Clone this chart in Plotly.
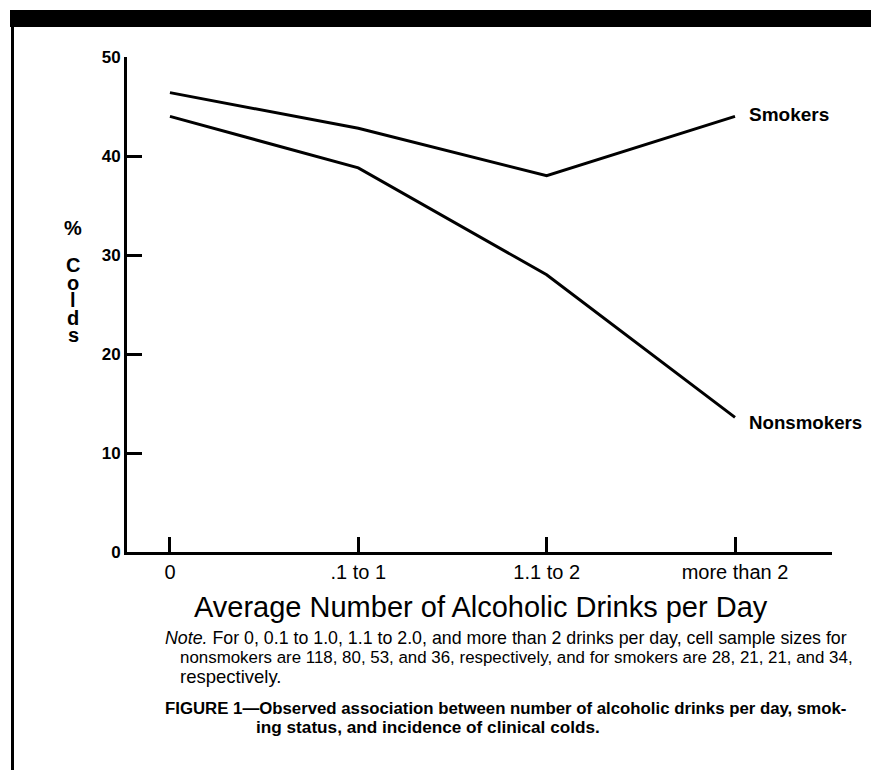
import plotly.graph_objects as go

categories = ["0", ".1 to 1", "1.1 to 2", "more than 2"]
smokers = [46.4, 42.8, 38.0, 44.0]
nonsmokers = [44.0, 38.8, 28.0, 13.6]
y_ticks = [0, 10, 20, 30, 40, 50]

# page has an 8px body margin; compensate so the plot lands where intended
OFF = 8
W, H = 879 - OFF, 770 - OFF
X0, X1, Y0, Y1 = 127, 832, 57, 552          # plot area in page pixels
L, T = X0 - OFF, Y0 - OFF
R, B = 879 - X1, 770 - Y1
PW, PH = X1 - X0, Y1 - Y0
FONT = "Liberation Sans, Arial, Helvetica, sans-serif"


def px(x):
    return (x - X0) / PW


def py(y):
    return (Y1 - y) / PH


fig = go.Figure()
for name, vals in [("Smokers", smokers), ("Nonsmokers", nonsmokers)]:
    fig.add_trace(go.Scatter(x=categories, y=vals, mode="lines", name=name,
                             line=dict(color="black", width=3), showlegend=False,
                             hoverinfo="skip"))

annotations = []


def txt(text, x, y, size, bold=False, anchor="left"):
    annotations.append(dict(text=text, x=px(x), y=py(y), xref="paper", yref="paper",
                            xanchor=anchor, yanchor="middle", showarrow=False,
                            font=dict(family=FONT, size=size, color="black",
                                      weight="bold" if bold else "normal")))


txt("Smokers", 747, 115, 19, True)
txt("Nonsmokers", 747, 422, 18.7, True)
for ch, yy in [("%", 228), ("C", 265), ("o", 283), ("l", 300), ("d", 318), ("s", 335)]:
    txt(ch, 73, yy, 20, True, "center")
txt("Average Number of Alcoholic Drinks per Day", 481, 607, 29, False, "center")
txt("<i>Note.</i> For 0, 0.1 to 1.0, 1.1 to 2.0, and more than 2 drinks per day, cell sample sizes for",
    163, 638, 17.8)
txt("nonsmokers are 118, 80, 53, and 36, respectively, and for smokers are 28, 21, 21, and 34,",
    178, 657, 16.9)
txt("respectively.", 178, 676, 18.5)
txt("FIGURE 1\u2014Observed association between number of alcoholic drinks per day, smok-",
    163, 708, 16.8, True)
txt("ing status, and incidence of clinical colds.", 254, 727, 17.2, True)

shapes = [
    dict(type="rect", xref="paper", yref="paper", x0=px(10), x1=px(885), y0=py(10), y1=py(27),
         fillcolor="black", line=dict(width=0), layer="above"),
    dict(type="line", xref="paper", yref="paper", x0=px(12.5), x1=px(12.5), y0=py(27), y1=py(775),
         line=dict(color="black", width=3)),
]

fig.update_layout(
    width=W, height=H, autosize=False,
    margin=dict(l=L, r=R, t=T, b=B, pad=0),
    paper_bgcolor="white", plot_bgcolor="white",
    font=dict(family=FONT, color="black"),
    annotations=annotations, shapes=shapes,
    xaxis=dict(type="category", range=[-0.228, 3.515], showgrid=False, zeroline=False,
               showline=True, linecolor="black", linewidth=3,
               ticks="inside", ticklen=15, tickwidth=2.5, tickcolor="black",
               tickfont=dict(family=FONT, size=20, color="black")),
    yaxis=dict(range=[0, 50], tickvals=y_ticks, showgrid=False, zeroline=False,
               showline=True, linecolor="black", linewidth=3,
               ticks="inside", ticklen=15, tickwidth=2.5, tickcolor="black",
               tickfont=dict(family=FONT, size=17, color="black", weight="bold")),
)

fig.write_html("out.html")
